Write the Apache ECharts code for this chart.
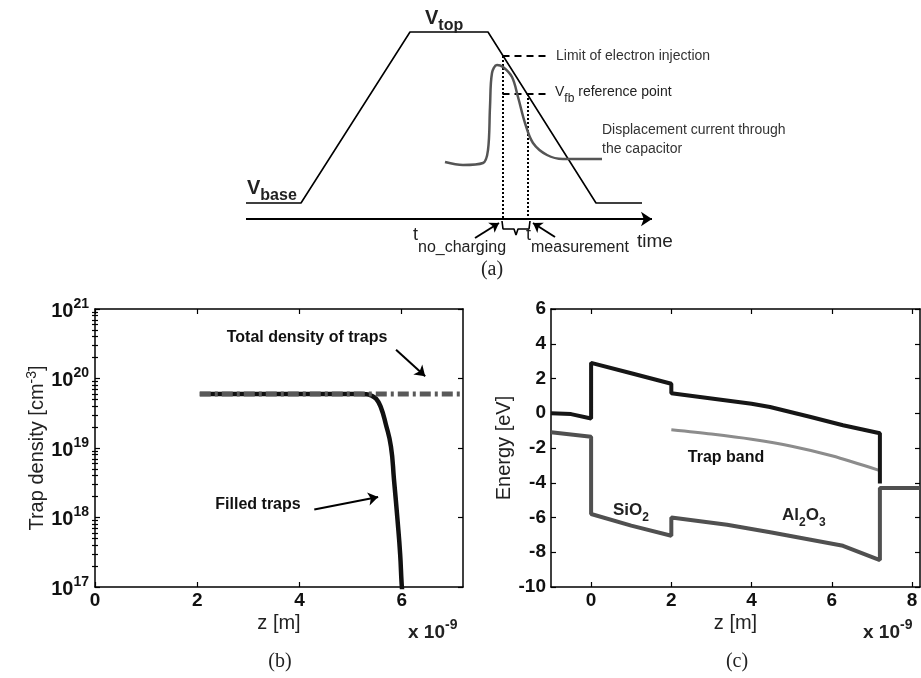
<!DOCTYPE html>
<html>
<head>
<meta charset="utf-8">
<script src="https://cdn.jsdelivr.net/npm/echarts@6/dist/echarts.min.js"></script>
<style>
  html, body { margin: 0; padding: 0; background: #fff; }
  #chart { width: 921px; height: 678px; }
</style>
</head>
<body>
<div id="chart"></div>
<script>
// ---- (a) gate voltage pulse and displacement current (schematic units) ----
const pulseTime  = [6, 61, 170, 248, 356, 402];
const pulseLevel = [17, 17, 188, 188, 17, 17];
const currentTime  = [205, 223, 243, 248, 250, 252, 257, 263, 272, 278, 285, 293, 307, 323, 340, 362];
const currentLevel = [58, 55, 57, 70, 113, 147, 155, 153, 143, 123, 97, 77, 65, 61, 61, 61];
const injectionLimitLevel = 164;
const vfbLevel = 126;
const tNoCharging = 262.5;
const tMeasurement = 288;

// ---- (b) trap occupation, z in units of 1e-9 m ----
const totalZ = [2.05, 7.2];
const totalDensity = [6e19, 6e19];
const filledZ = [2.05, 3, 4, 5, 5.2, 5.3, 5.4, 5.5, 5.59, 5.69, 5.79, 5.85, 5.92, 5.97, 6.0, 6.03];
const filledDensity = [6e19, 6e19, 6e19, 6e19, 6e19, 5.95e19, 5.7e19, 5.1e19, 3.9e19, 2.2e19, 1.05e19, 3.5e18, 9e17, 3e17, 1.1e17, 0.6e17];
const densityDecades = [17, 18, 19, 20, 21];
const zTicksB = [0, 2, 4, 6];

// ---- (c) band diagram, z in units of 1e-9 m ----
const condZ = [-1, -0.5, 0, 0, 1, 2, 2, 3, 4, 4.46, 5.45, 6.28, 7.2, 7.2];
const condE = [0, -0.05, -0.3, 2.9, 2.3, 1.7, 1.15, 0.85, 0.55, 0.36, -0.2, -0.69, -1.15, -4.05];
const valZ = [-1, 0, 0, 1, 2, 2, 3.39, 4.5, 6.28, 7.2, 7.2, 8.2];
const valE = [-1.1, -1.35, -5.8, -6.47, -7.05, -6.0, -6.42, -6.86, -7.63, -8.45, -4.3, -4.3];
const trapZ = [2, 3, 4, 5, 6, 7.2];
const trapE = [-0.95, -1.2, -1.5, -1.9, -2.45, -3.3];
const zTicksC = [0, 2, 4, 6, 8];

const SANS = 'Liberation Sans, Arial, Helvetica, sans-serif';
const SERIF = 'Liberation Serif, Times New Roman, serif';
const zip = (xs, ys) => xs.map((x, i) => [x, ys[i]]);

const DENSITY_MIN = 1e17, DENSITY_MAX = 1e21;
// decade ticks, nudged just inside the axis extent so both end ticks are kept
const densityTicks = densityDecades.map(e => {
  const v = Math.pow(10, e);
  return Math.min(Math.max(v, DENSITY_MIN * (1 + 1e-9)), DENSITY_MAX * (1 - 1e-9));
});
// minor ticks 2..9 within each decade of the log axis
const minorDensityTicks = [];
for (let e = 17; e < 21; e++) {
  for (let m = 2; m <= 9; m++) minorDensityTicks.push(m * Math.pow(10, e));
}

const axisLine = { show: true, onZero: false, lineStyle: { color: '#000', width: 1.5 } };
const ticks = (vals, len) => ({ show: true, inside: true, length: len, customValues: vals,
  lineStyle: { color: '#000', width: 1.2 } });
const tickFont = { fontFamily: SANS, fontSize: 19, fontWeight: 'bold', color: '#111' };
const nameFont = { fontFamily: SANS, fontSize: 20, color: '#222' };

function text(x, y, str, opt) {
  opt = opt || {};
  const style = {
    text: str, x: 0, y: 0, fill: opt.color || '#222',
    font: (opt.weight || 'normal') + ' ' + (opt.size || 14) + 'px ' + (opt.family || SANS),
    align: opt.align || 'left', verticalAlign: 'middle',
    textAlign: opt.align || 'left', textVerticalAlign: 'middle'
  };
  if (opt.rich) style.rich = opt.rich;
  return { type: 'text', x: x, y: y, silent: true, z: 10, style: style };
}
// subscript / superscript rich styles
function subRich(main, sub, weight, lh, color) {
  return {
    m: { fontFamily: SANS, fontSize: main, fontWeight: weight, lineHeight: lh, verticalAlign: 'top', color: color },
    s: { fontFamily: SANS, fontSize: sub, fontWeight: weight, lineHeight: lh, verticalAlign: 'bottom', color: color }
  };
}
function supRich(main, sup, weight, lh, color) {
  return {
    m: { fontFamily: SANS, fontSize: main, fontWeight: weight, lineHeight: lh, verticalAlign: 'bottom', color: color },
    s: { fontFamily: SANS, fontSize: sup, fontWeight: weight, lineHeight: lh, verticalAlign: 'top', color: color }
  };
}

const logLabelRich = supRich(20, 14, 'bold', 24, '#111');

const option = {
  animation: false,
  backgroundColor: '#fff',
  grid: [
    { left: 240, top: 20, width: 440, height: 230, outerBoundsMode: 'none' },
    { left: 95, top: 309, width: 368, height: 278, outerBoundsMode: 'none' },
    { left: 551, top: 309, width: 369, height: 278, outerBoundsMode: 'none' }
  ],
  xAxis: [
    { gridIndex: 0, type: 'value', min: 0, max: 440, show: false },
    { gridIndex: 1, type: 'value', min: 0, max: 7.2, position: 'bottom',
      axisLine: axisLine, axisTick: ticks(zTicksB, 5), splitLine: { show: false },
      axisLabel: Object.assign({ customValues: zTicksB, margin: 4 }, tickFont),
      name: 'z [m]', nameLocation: 'middle', nameGap: 26, nameTextStyle: nameFont },
    { gridIndex: 1, type: 'value', min: 0, max: 7.2, position: 'top',
      axisLine: axisLine, axisTick: ticks(zTicksB, 5), axisLabel: { show: false }, splitLine: { show: false } },
    { gridIndex: 2, type: 'value', min: -1, max: 8.2, position: 'bottom',
      axisLine: axisLine, axisTick: ticks(zTicksC, 5), splitLine: { show: false },
      axisLabel: Object.assign({ customValues: zTicksC, margin: 4 }, tickFont),
      name: 'z [m]', nameLocation: 'middle', nameGap: 26, nameTextStyle: nameFont },
    { gridIndex: 2, type: 'value', min: -1, max: 8.2, position: 'top',
      axisLine: axisLine, axisTick: ticks(zTicksC, 5), axisLabel: { show: false }, splitLine: { show: false } }
  ],
  yAxis: [
    { gridIndex: 0, type: 'value', min: -30, max: 200, show: false },
    { gridIndex: 1, type: 'log', logBase: 10, min: DENSITY_MIN, max: DENSITY_MAX, position: 'left',
      axisLine: axisLine, axisTick: ticks(densityTicks, 5), splitLine: { show: false },
      axisLabel: { customValues: densityTicks, margin: 6,
        formatter: v => '{m|10}{s|' + Math.round(Math.log10(v)) + '}', rich: logLabelRich },
      name: 'Trap density [cm{s|-3}]', nameLocation: 'middle', nameGap: 36, nameRotate: 90,
      nameTextStyle: Object.assign({ rich: supRich(20, 14, 'normal', 24, '#222') }, nameFont) },
    { gridIndex: 1, type: 'log', logBase: 10, min: DENSITY_MIN, max: DENSITY_MAX, position: 'left',
      axisLine: { show: false }, axisTick: ticks(minorDensityTicks, 3), axisLabel: { show: false }, splitLine: { show: false } },
    { gridIndex: 1, type: 'log', logBase: 10, min: DENSITY_MIN, max: DENSITY_MAX, position: 'right',
      axisLine: axisLine, axisTick: ticks(densityTicks, 5), axisLabel: { show: false }, splitLine: { show: false } },
    { gridIndex: 1, type: 'log', logBase: 10, min: DENSITY_MIN, max: DENSITY_MAX, position: 'right',
      axisLine: { show: false }, axisTick: ticks(minorDensityTicks, 3), axisLabel: { show: false }, splitLine: { show: false } },
    { gridIndex: 2, type: 'value', min: -10, max: 6, interval: 2, position: 'left',
      axisLine: axisLine, axisTick: { show: true, inside: true, length: 5, lineStyle: { color: '#000', width: 1.2 } },
      splitLine: { show: false }, axisLabel: Object.assign({ margin: 5 }, tickFont),
      name: 'Energy [eV]', nameLocation: 'middle', nameGap: 29, nameRotate: 90, nameTextStyle: nameFont },
    { gridIndex: 2, type: 'value', min: -10, max: 6, interval: 2, position: 'right',
      axisLine: axisLine, axisTick: { show: true, inside: true, length: 5, lineStyle: { color: '#000', width: 1.2 } },
      axisLabel: { show: false }, splitLine: { show: false } }
  ],
  series: [
    // (a) voltage pulse
    { type: 'line', xAxisIndex: 0, yAxisIndex: 0, data: zip(pulseTime, pulseLevel), symbol: 'none',
      lineStyle: { color: '#000', width: 1.6 } },
    // (a) displacement current
    { type: 'line', xAxisIndex: 0, yAxisIndex: 0, data: zip(currentTime, currentLevel), symbol: 'none', smooth: 0.35,
      lineStyle: { color: '#555', width: 2.5 } },
    // (a) time axis
    { type: 'lines', coordinateSystem: 'cartesian2d', xAxisIndex: 0, yAxisIndex: 0,
      symbol: ['none', 'arrow'], symbolSize: 11,
      lineStyle: { color: '#000', width: 2, opacity: 1 },
      data: [{ coords: [[6, 1], [412, 1]] }] },
    // (a) reference levels
    { type: 'lines', coordinateSystem: 'cartesian2d', xAxisIndex: 0, yAxisIndex: 0, symbol: 'none',
      lineStyle: { color: '#000', width: 2, type: [7, 5], opacity: 1 },
      data: [{ coords: [[tNoCharging, injectionLimitLevel], [310, injectionLimitLevel]] },
             { coords: [[tNoCharging, vfbLevel], [307, vfbLevel]] }] },
    // (a) time markers
    { type: 'lines', coordinateSystem: 'cartesian2d', xAxisIndex: 0, yAxisIndex: 0, symbol: 'none',
      lineStyle: { color: '#000', width: 2, type: [2, 2], opacity: 1 },
      data: [{ coords: [[tNoCharging, injectionLimitLevel], [tNoCharging, 1]] },
             { coords: [[tMeasurement, vfbLevel], [tMeasurement, 1]] }] },
    // (a) brace between the two instants
    { type: 'line', xAxisIndex: 0, yAxisIndex: 0, symbol: 'none',
      lineStyle: { color: '#000', width: 1.6 },
      data: [[262, -1], [263, -9], [274, -9], [276, -15], [278, -9], [289, -9], [290, -1]] },
    // (a) label pointers
    { type: 'lines', coordinateSystem: 'cartesian2d', xAxisIndex: 0, yAxisIndex: 0,
      symbol: ['none', 'arrow'], symbolSize: 9,
      lineStyle: { color: '#000', width: 2, opacity: 1 },
      data: [{ coords: [[235, -18], [259, -3]] }, { coords: [[315, -17], [293, -3]] }] },

    // (b) filled traps
    { type: 'line', xAxisIndex: 1, yAxisIndex: 1, data: zip(filledZ, filledDensity), symbol: 'none',
      smooth: 0.5, lineStyle: { color: '#111', width: 4.5 } },
    // (b) total density of traps
    { type: 'line', xAxisIndex: 1, yAxisIndex: 1, data: zip(totalZ, totalDensity), symbol: 'none',
      lineStyle: { color: '#595959', width: 5, type: [11, 4, 3, 4] } },
    // (b) label pointers
    { type: 'lines', coordinateSystem: 'cartesian2d', xAxisIndex: 1, yAxisIndex: 1,
      symbol: ['none', 'arrow'], symbolSize: 10,
      lineStyle: { color: '#000', width: 2, opacity: 1 },
      data: [{ coords: [[5.89, 2.6e20], [6.46, 1.08e20]] }, { coords: [[4.29, 1.3e18], [5.54, 1.97e18]] }] },

    // (c) trap band
    { type: 'line', xAxisIndex: 3, yAxisIndex: 5, data: zip(trapZ, trapE), symbol: 'none', smooth: 0.3,
      lineStyle: { color: '#8c8c8c', width: 3 } },
    // (c) valence band edge
    { type: 'line', xAxisIndex: 3, yAxisIndex: 5, data: zip(valZ, valE), symbol: 'none',
      lineStyle: { color: '#505050', width: 4 } },
    // (c) conduction band edge
    { type: 'line', xAxisIndex: 3, yAxisIndex: 5, data: zip(condZ, condE), symbol: 'none',
      lineStyle: { color: '#161616', width: 4 } }
  ],
  graphic: [
    // (a)
    text(425, 21, '{m|V}{s|top}', { rich: subRich(20, 16, 'bold', 26, '#111') }),
    text(247, 191, '{m|V}{s|base}', { rich: subRich(20, 16, 'bold', 26, '#111') }),
    text(556, 56, 'Limit of electron injection', { size: 14, color: '#333' }),
    text(555, 95, '{m|V}{s|fb}{m| reference point}', { rich: subRich(14, 12, 'normal', 20, '#333') }),
    text(602, 130, 'Displacement current through', { size: 14, color: '#333' }),
    text(602, 149, 'the capacitor', { size: 14, color: '#333' }),
    text(413, 241, '{m|t}{s|no_charging}', { rich: subRich(18, 16, 'normal', 30, '#222') }),
    text(526, 241, '{m|t}{s|measurement}', { rich: subRich(18, 16, 'normal', 30, '#222') }),
    text(637, 242, 'time', { size: 19, color: '#222' }),
    text(492, 270, '(a)', { size: 20, family: SERIF, align: 'center', color: '#222' }),
    // (b)
    text(307, 338, 'Total density of traps', { size: 16, weight: 'bold', align: 'center', color: '#111' }),
    text(258, 505, 'Filled traps', { size: 16, weight: 'bold', align: 'center', color: '#111' }),
    text(408, 630, '{m|x 10}{s|-9}', { rich: supRich(19, 14, 'bold', 24, '#111') }),
    text(280, 662, '(b)', { size: 20, family: SERIF, align: 'center', color: '#222' }),
    // (c)
    text(726, 458, 'Trap band', { size: 16, weight: 'bold', align: 'center', color: '#111' }),
    text(613, 513, '{m|SiO}{s|2}', { rich: subRich(17, 12, 'bold', 22, '#111') }),
    text(782, 518, '{m|Al}{s|2}{m|O}{s|3}', { rich: subRich(17, 12, 'bold', 22, '#111') }),
    text(863, 630, '{m|x 10}{s|-9}', { rich: supRich(19, 14, 'bold', 24, '#111') }),
    text(737, 662, '(c)', { size: 20, family: SERIF, align: 'center', color: '#222' })
  ]
};

const chart = echarts.init(document.getElementById('chart'), null, { renderer: 'canvas' });
chart.setOption(option);
</script>
</body>
</html>
